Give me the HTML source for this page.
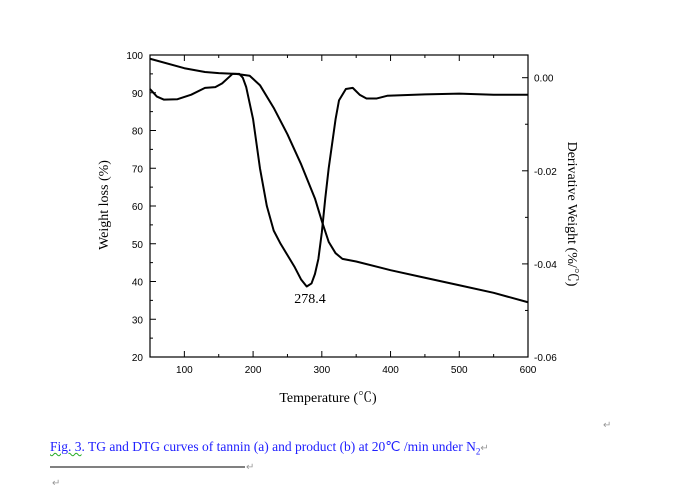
<!DOCTYPE html>
<html><head><meta charset="utf-8"><style>
body{margin:0;background:#fff;width:677px;height:487px;overflow:hidden;position:relative}
svg{position:absolute;left:0;top:0}
.t{font-family:"Liberation Sans",sans-serif;font-size:10px;fill:#000}
.s{font-family:"Liberation Serif","Noto Serif CJK SC",serif;fill:#000}
.cap{position:absolute;left:50px;top:439px;font-family:"Liberation Serif",serif;font-size:13.5px;color:#2020ff;white-space:nowrap}
</style></head><body>
<svg id="c" width="677" height="487"></svg>
<div class="cap"><span style="text-decoration:underline wavy #2a2;text-decoration-thickness:1px">Fig. 3</span>. TG and DTG curves of tannin (a) and product (b) at 20℃ /min under N<sub style="font-size:9px">2</sub><span style="color:#999;font-size:10px">↵</span></div>
<script>
const tgT=[50,100,130,150,175,195,210,230,250,270,290,300,310,320,330,350,400,450,500,550,600];
const tgW=[99,96.5,95.5,95.2,95,94.5,92,86,79,71,62,56,50.5,47.5,46,45.3,43,41,39,37,34.5];
const dtgT=[50,60,70,90,110,130,145,155,170,180,185,190,200,210,220,230,240,250,260,270,278,285,290,295,300,305,310,320,325,335,345,355,365,380,395,450,500,550,600];
const dtgD=[-0.00243,-0.00406,-0.0047,-0.00462,-0.00365,-0.00219,-0.00203,-0.00122,0.00081,0.00081,0,-0.00203,-0.00892,-0.01946,-0.02757,-0.03285,-0.03568,-0.03812,-0.04055,-0.04339,-0.04485,-0.0442,-0.04217,-0.03893,-0.03325,-0.02595,-0.01946,-0.00892,-0.00487,-0.00243,-0.00219,-0.00365,-0.00446,-0.00446,-0.00389,-0.00357,-0.00341,-0.00365,-0.00365];
const xTicks=[100,200,300,400,500,600];
const yTicks=[20,30,40,50,60,70,80,90,100];
const rTicks=[0,-0.02,-0.04,-0.06];
const rLabels=["0.00","-0.02","-0.04","-0.06"];
const L=150,R=528,T=55,B=357;
const X=v=>L+(v-50)/550*(R-L);
const Y=v=>B-(v-20)/80*(B-T);
const YR=v=>77.7+(0-v)/0.06*(B-77.7);
const svg=document.getElementById('c');
function el(tag,a,txt){const e=document.createElementNS('http://www.w3.org/2000/svg',tag);for(const k in a)e.setAttribute(k,a[k]);if(txt!==undefined)e.textContent=txt;svg.appendChild(e);return e;}
let e=el('rect',{x:L,y:T,width:R-L,height:B-T,fill:'none',stroke:'#000','stroke-width':1.2});


for(let v=50;v<=600;v+=50){const big=v%100==0;const x=X(v);
el('line',{x1:x,y1:B,x2:x,y2:B-(big?6:3),stroke:'#000'});el('line',{x1:x,y1:T,x2:x,y2:T+(big?6:3),stroke:'#000'});}
xTicks.forEach(v=>{e=el('text',{x:X(v),y:B+16,'text-anchor':'middle',class:'t'},String(v));

});
for(let v=20;v<=100;v+=5){const big=v%10==0;el('line',{x1:L,y1:Y(v),x2:L+(big?6:3),y2:Y(v),stroke:'#000'});}
yTicks.forEach(v=>{e=el('text',{x:L-7,y:Y(v)+4,'text-anchor':'end',class:'t'},String(v));

});
for(let v=0;v>=-0.06;v-=0.01){const big=Math.round(v*100)%2==0;el('line',{x1:R,y1:YR(v),x2:R-(big?6:3),y2:YR(v),stroke:'#000'});}
rTicks.forEach((v,i)=>{e=el('text',{x:R+6,y:YR(v)+4,class:'t'},rLabels[i]);

});
e=el('polyline',{points:tgT.map((t,i)=>X(t)+','+Y(tgW[i])).join(' '),fill:'none',stroke:'#000','stroke-width':2,'stroke-linejoin':'round'});


e=el('polyline',{points:dtgT.map((t,i)=>X(t)+','+YR(dtgD[i])).join(' '),fill:'none',stroke:'#000','stroke-width':2,'stroke-linejoin':'round'});


e=el('text',{x:310,y:303,'text-anchor':'middle',class:'s','font-size':14},'278.4');


e=el('text',{x:328,y:402,'text-anchor':'middle',class:'s','font-size':14},'Temperature (℃)');


e=el('text',{x:0,y:0,'text-anchor':'middle',class:'s','font-size':14,transform:'translate(108,205) rotate(-90)'},'Weight loss (%)');


e=el('text',{x:0,y:0,'text-anchor':'middle',class:'s','font-size':14,transform:'translate(568,214) rotate(90)'},'Derivative Weight (%/℃)');


e=el('line',{x1:50,y1:467,x2:245,y2:467,stroke:'#000','stroke-width':1});


el('text',{x:246,y:470,'font-size':10,fill:'#999'},'↵');
el('text',{x:603,y:428,'font-size':10,fill:'#999'},'↵');
el('text',{x:52,y:486,'font-size':10,fill:'#999'},'↵');
</script>
</body></html>
